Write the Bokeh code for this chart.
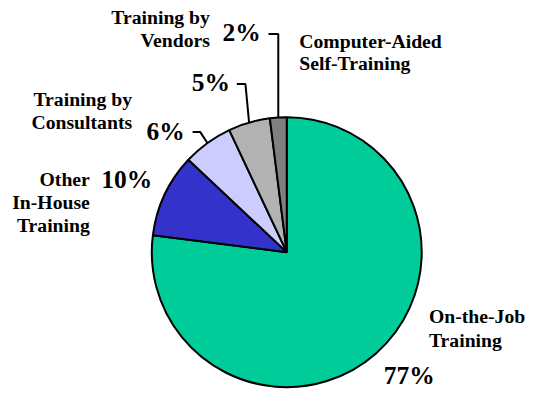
import math
from bokeh.plotting import figure
from bokeh.models import Range1d, ColumnDataSource
from bokeh.core.properties import value
from bokeh.embed import file_html
from bokeh.resources import INLINE

# ---- data ----
categories = ["On-the-Job Training", "Other In-House Training", "Training by Consultants",
              "Training by Vendors", "Computer-Aided Self-Training"]
category_lines = [["On-the-Job", "Training"], ["Other", "In-House", "Training"],
                  ["Training by", "Consultants"], ["Training by", "Vendors"],
                  ["Computer-Aided", "Self-Training"]]
shares = [77, 10, 6, 5, 2]
colors = ["#00CC99", "#3333CC", "#CCCCFF", "#B2B2B2", "#808080"]

# ---- layout (reference pixel space; y down) ----
W, H = 537, 390
S = H / 406.0                     # uniform scale of the reference frame into the canvas
CX, CY, R = 298, 262, 140.5
cat_x = [446, 93, 137, 218, 311]
cat_align = ["left", "right", "right", "right", "left"]
cat_baselines = [[337, 362], [195, 218, 242], [111.5, 135], [26, 50], [51, 73.5]]
pct_xy = [(399, 402), (105, 198), (152, 148), (199, 96.5), (231, 45)]
leader_start = {2: (200, 137), 3: (246, 87), 4: (279, 35)}
leader_elbow_x = {2: 208, 3: 255, 4: None}
CAT_PX, PCT_PX = 20.5 * S, 26.5 * S
BASE_SHIFT = 0.425                # svg text draws this many em below its anchor

p = figure(width=W, height=H, output_backend="svg", toolbar_location=None,
           x_range=Range1d(0, W / S), y_range=Range1d(-406, 0),
           min_border=0, outline_line_color=None, background_fill_color="white",
           border_fill_color="white")
p.axis.visible = False
p.xgrid.visible = False
p.ygrid.visible = False

total = float(sum(shares))
starts, ends, mids = [], [], []
cum = 0.0
for v in shares:
    a0 = math.pi / 2 - 2 * math.pi * cum / total
    cum += v
    a1 = math.pi / 2 - 2 * math.pi * cum / total
    starts.append(a1)
    ends.append(a0)
    mids.append((a0 + a1) / 2)

src = ColumnDataSource(dict(x=[CX] * len(shares), y=[-CY] * len(shares),
                            start=starts, end=ends, color=colors, cat=categories, share=shares))
p.wedge(x="x", y="y", radius=R, start_angle="start", end_angle="end", direction="anticlock",
        fill_color="color", line_color="black", line_width=2, source=src)

# leader lines from the labels to the middle of the small wedges
for i, (sx, sy) in leader_start.items():
    ex = CX + R * math.cos(mids[i])
    ey = CY - R * math.sin(mids[i])
    bx = leader_elbow_x[i] if leader_elbow_x[i] is not None else ex
    p.line([sx, bx, ex], [-sy, -sy, -ey], line_color="black", line_width=2)


def ytext(baseline, px):
    return -(baseline - BASE_SHIFT * px / S)


# percentage labels
p.text(x=[xy[0] for xy in pct_xy], y=[ytext(xy[1], PCT_PX) for xy in pct_xy],
       text=[f"{v}%" for v in shares], text_font=value("Liberation Serif"), text_font_style="bold",
       text_font_size=f"{PCT_PX:.1f}px", text_align="left", text_baseline="alphabetic",
       text_color="black")

# category labels
for i, lines in enumerate(category_lines):
    p.text(x=[cat_x[i]] * len(lines), y=[ytext(b, CAT_PX) for b in cat_baselines[i]], text=lines,
           text_font=value("Liberation Serif"), text_font_style="bold",
           text_font_size=f"{CAT_PX:.1f}px", text_align=cat_align[i],
           text_baseline="alphabetic", text_color="black")

open("out.html", "w").write(file_html(p, INLINE))
